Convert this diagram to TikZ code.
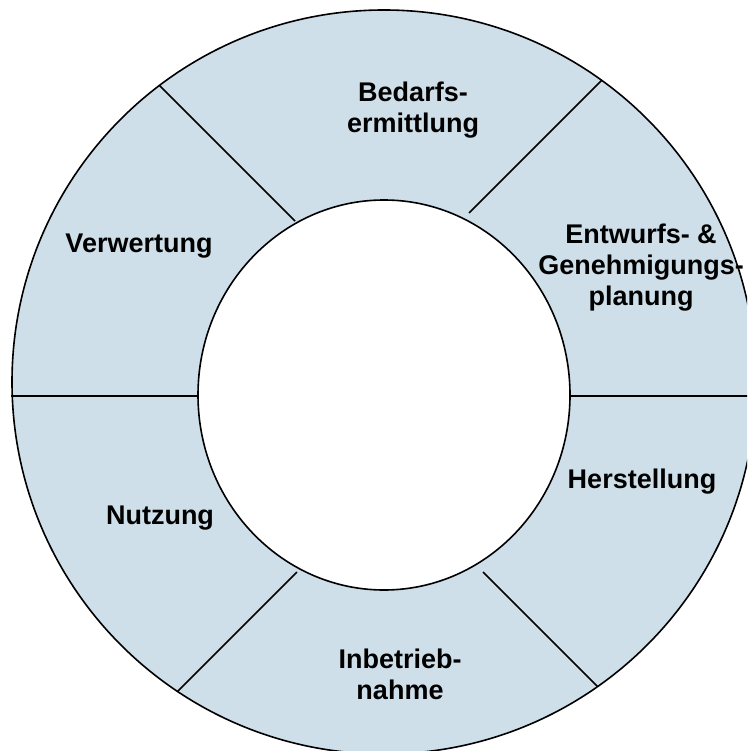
\documentclass[tikz,border=0pt]{standalone}
\usepackage{fontspec}
\setmainfont{Liberation Sans}
\definecolor{ringfill}{RGB}{207,223,233}
\begin{document}
\begin{tikzpicture}[x=1pt,y=-1pt,
  ringline/.style={draw=black,line width=1.6pt},
  divider/.style={draw=black,line width=1.5pt},
  lbl/.style={font=\bfseries\fontsize{27}{31}\selectfont,align=center,inner sep=0pt}]
\useasboundingbox (0,0) rectangle (747,751);
\clip (0,0) rectangle (747,751);
\fill[white] (0,0) rectangle (747,751);
% ring
\path[fill=ringfill] (384,382) circle[radius=372];
% divider end points (inner ring end, outer ring end)
\coordinate (uli) at (295,221);  \coordinate (ulo) at (159.4,85.4);
\coordinate (uri) at (469,213);  \coordinate (uro) at (601.7,80.3);
\coordinate (li) at (198,396);   \coordinate (lo) at (11,396);
\coordinate (ri) at (570,396);   \coordinate (ro) at (760,396);
\coordinate (lli) at (297,572);  \coordinate (llo) at (177.5,691.5);
\coordinate (lri) at (483,572);  \coordinate (lro) at (597.6,686.6);
\draw[divider] (ulo) -- (uli);
\draw[divider] (uro) -- (uri);
\draw[divider] (lo) -- (li);
\draw[divider] (ro) -- (ri);
\draw[divider] (llo) -- (lli);
\draw[divider] (lro) -- (lri);
\path[ringline] (384,382) circle[radius=372];
\path[ringline,fill=white] (384,395) ellipse[x radius=186,y radius=195];
% labels
\node[lbl] (bedarf) at (413,110) {Bedarfs-\\ermittlung};
\node[lbl] (entwurf) at (641,268) {Entwurfs- \&\\Genehmigungs-\\planung};
\node[lbl] (verw) at (139,246) {Verwertung};
\node[lbl] (herst) at (642,482) {Herstellung};
\node[lbl] (nutz) at (160,518) {Nutzung};
\node[lbl] (inbetr) at (400,674) {Inbetrieb-\\nahme};
\end{tikzpicture}
\end{document}
